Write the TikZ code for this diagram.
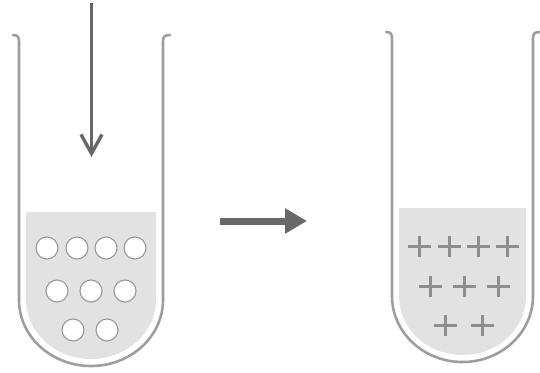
\documentclass[tikz,border=0pt]{standalone}
\usetikzlibrary{arrows.meta}
\definecolor{wallgray}{HTML}{9E9E9E}
\definecolor{liquid}{HTML}{E2E2E2}
\definecolor{arrowgray}{HTML}{686868}
\definecolor{markgray}{HTML}{8E8E8E}
\definecolor{beadgray}{HTML}{999999}
\tikzset{
  wall/.style={draw=wallgray, line width=2.6pt, line cap=round},
  liquidfill/.style={fill=liquid},
  bead/.style={circle, draw=beadgray, fill=white, line width=1.1pt, minimum size=22pt, inner sep=0pt},
  plusmark/.style={draw=markgray, line width=3pt},
  feedarrow/.style={draw=arrowgray, line width=3.4pt, -{Straight Barb[length=19pt,width=21pt]}},
  steparrow/.style={draw=arrowgray, line width=7pt, -{Triangle[length=22pt,width=24pt]}}
}
% test tube: #1 = left wall x, #2 = top y, #3 = width, #4 = depth, #5 = liquid level (from top)
\newcommand\testtube[5]{%
  \begin{scope}[shift={(#1,#2)}]
    \pgfmathsetmacro\tw{#3}
    \pgfmathsetmacro\th{#4}
    \pgfmathsetmacro\ta{\tw/2}
    \pgfmathsetmacro\tb{66}
    % liquid, inset from the wall
    \path[liquidfill] (7,#5) -- (7,\th-\tb)
      .. controls (7,\th-\tb+0.552*59) and (\ta-0.552*64.5,\th-7) .. (\ta,\th-7)
      .. controls (\ta+0.552*64.5,\th-7) and (\tw-7,\th-\tb+0.552*59) .. (\tw-7,\th-\tb)
      -- (\tw-7,#5) -- cycle;
    % glass wall with flared lip
    \draw[wall] (-6,0) .. controls (-1,0) and (0,2) .. (0,7) -- (0,\th-\tb)
      .. controls (0,\th-\tb+0.552*\tb) and (\ta-0.552*\ta,\th) .. (\ta,\th)
      .. controls (\ta+0.552*\ta,\th) and (\tw,\th-\tb+0.552*\tb) .. (\tw,\th-\tb)
      -- (\tw,7) .. controls (\tw,2) and (\tw+1,0) .. (\tw+7,0);
  \end{scope}}
\newcommand\plusat[2]{\draw[plusmark] (#1-11.5,#2) -- (#1+11.5,#2) (#1,#2-10.5) -- (#1,#2+10.5);}
\begin{document}
\begin{tikzpicture}[x=1pt,y=-1pt]
  \useasboundingbox (0,0) rectangle (540,372);
  % left tube with beads
  \testtube{19}{35}{144}{331}{177}
  \foreach \n/\x/\y in {1/47/248, 2/77/248, 3/106/248, 4/135/248,
                        5/57/291, 6/91/291, 7/125/291,
                        8/73/330, 9/107/330}
    {\node[bead] (bead\n) at (\x,\y) {};}
  % feed arrow into left tube
  \coordinate (feedstart) at (91.5,3);
  \coordinate (feedend) at (91.5,157);
  \draw[feedarrow] (feedstart) -- (feedend);
  % step arrow between tubes
  \coordinate (stepstart) at (220,221);
  \coordinate (stepend) at (307,221);
  \draw[steparrow] (stepstart) -- (stepend);
  % right tube with plus marks
  \testtube{392}{32}{141}{330}{176}
  \foreach \x/\y in {419.5/246, 449/246, 478/246, 507/246,
                     430/286, 464/286, 498/286,
                     445/325, 482/325}
    {\plusat{\x}{\y}}
\end{tikzpicture}
\end{document}
